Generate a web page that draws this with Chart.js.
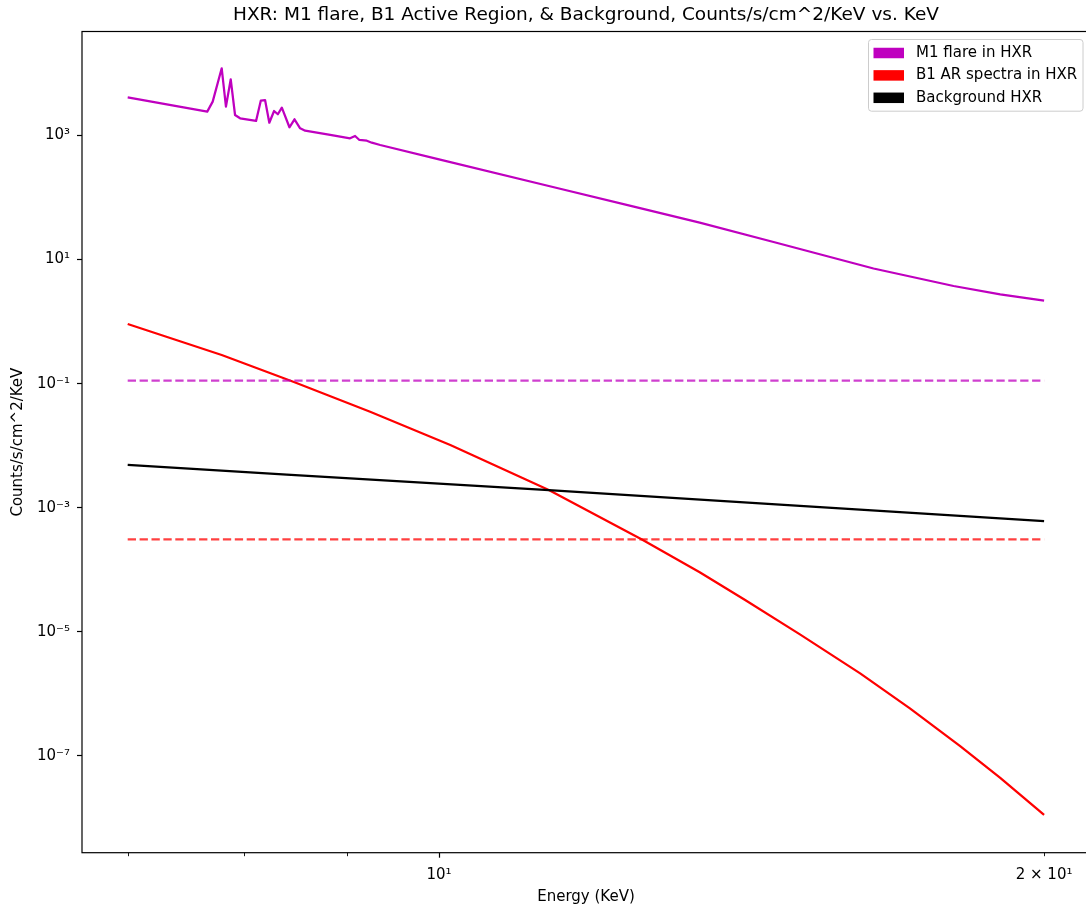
<!DOCTYPE html>
<html>
<head>
<meta charset="utf-8">
<title>HXR spectra</title>
<script src="https://cdn.jsdelivr.net/npm/chart.js@4.4.0/dist/chart.umd.min.js"></script>
<style>
  html, body { margin: 0; padding: 0; background: #ffffff; overflow: hidden; }
  canvas { display: block; }
</style>
</head>
<body>
<canvas id="hxr" width="1100" height="911" style="width:1100px;height:911px"></canvas>
<script>
// ---- Spectra (energy in keV, counts/s/cm^2/keV) ----
const m1Energy = [7.0, 7.668, 7.716, 7.796, 7.834, 7.877, 7.916, 7.962, 8.109, 8.153, 8.193, 8.233,
                  8.278, 8.314, 8.352, 8.425, 8.474, 8.529, 8.578, 8.828, 9.031, 9.083, 9.128, 9.206,
                  9.259, 9.348, 10.0, 11.42, 12.5, 13.48, 14.67, 16.45, 18.03, 19.02, 20.0];
const m1Flux   = [4130, 2421, 3510, 12100, 2913, 8050, 2139, 1892, 1714, 3640, 3730, 1607,
                  2483, 2198, 2806, 1356, 1824, 1306, 1195, 1019, 901, 981, 846, 824,
                  765, 703, 413, 145, 71.1, 39.3, 19.2, 7.18, 3.75, 2.74, 2.17];

const arEnergy = [7.0, 7.796, 8.462, 9.241, 10.13, 11.34, 12.61, 13.48, 14.20, 15.12, 16.20,
                  17.15, 18.16, 19.02, 20.0];
const arFlux   = [0.915, 0.290, 0.1076, 0.0352, 0.01026, 1.93e-3, 3.10e-4, 9.14e-5, 3.26e-5, 9.09e-6, 2.14e-6,
                  5.85e-7, 1.455e-7, 4.43e-8, 1.12e-8];

const bgEnergy = [7.0, 8.40, 11.34, 15.12, 20.0];
const bgFlux   = [4.89e-3, 3.43e-3, 1.93e-3, 1.067e-3, 6.11e-4];

// Constant reference levels drawn as dashed lines across the energy band
const levelSpan = [7.0, 20.0];
const m1Level = 0.112;
const arLevel = 3.1e-4;

// ---- Axis ticks ----
const yTickValues = [1e-7, 1e-5, 1e-3, 1e-1, 1e1, 1e3];
const yTickLabels = ['10\u207B\u2077', '10\u207B\u2075', '10\u207B\u00B3', '10\u207B\u00B9', '10\u00B9', '10\u00B3'];
const xTickValues = [10, 20];
const xTickLabels = ['10\u00B9', '2 \u00D7 10\u00B9'];
const xMajorTicks = [10];
const xMinorTicks = [7, 8, 9, 20];
const xRange = [6.643, 21.08];
const yRange = [Math.pow(10, -8.56), Math.pow(10, 4.676)];

const FONT = "'DejaVu Sans', sans-serif";
Chart.defaults.font.family = FONT;
Chart.defaults.color = '#000000';

const MAGENTA = '#bf00bf';
const RED = '#ff0000';
const BLACK = '#000000';

const pts = (xs, ys) => xs.map((x, i) => ({ x: x, y: ys[i] }));
const sameLog = (a, b) => Math.abs(Math.log10(a) - Math.log10(b)) < 1e-6;
const labelFor = (vals, labels, v) => {
  const i = vals.findIndex(t => sameLog(t, v));
  return i >= 0 ? labels[i] : '';
};

const lineBase = { showLine: true, pointRadius: 0, pointHoverRadius: 0, borderWidth: 2.25,
                   borderJoinStyle: 'round', borderCapStyle: 'butt', fill: false, tension: 0 };

const datasets = [
  Object.assign({}, lineBase, { label: 'M1 flare in HXR', data: pts(m1Energy, m1Flux),
    borderColor: MAGENTA, legendColor: MAGENTA, inLegend: true, order: 5 }),
  Object.assign({}, lineBase, { label: 'B1 AR spectra in HXR', data: pts(arEnergy, arFlux),
    borderColor: RED, legendColor: RED, inLegend: true, order: 4 }),
  Object.assign({}, lineBase, { label: 'Background HXR', data: pts(bgEnergy, bgFlux),
    borderColor: BLACK, legendColor: BLACK, inLegend: true, order: 3 }),
  Object.assign({}, lineBase, { label: 'M1 level', data: pts(levelSpan, [m1Level, m1Level]),
    borderColor: 'rgba(191,0,191,0.75)', borderDash: [8.3, 3.6], inLegend: false, order: 2 }),
  Object.assign({}, lineBase, { label: 'B1 level', data: pts(levelSpan, [arLevel, arLevel]),
    borderColor: 'rgba(255,0,0,0.75)', borderDash: [8.3, 3.6], inLegend: false, order: 1 })
];

// Axes spines, minor x ticks and a boxed legend in the upper right of the plot
const framePlugin = {
  id: 'frameAndLegend',
  afterDatasetsDraw(chart) {
    const ctx = chart.ctx;
    const a = chart.chartArea;
    const xs = chart.scales.x;
    ctx.save();
    ctx.strokeStyle = '#000000';
    ctx.lineWidth = 1.2;
    ctx.strokeRect(a.left, a.top, a.right - a.left, a.bottom - a.top);
    ctx.lineWidth = 0.9;
    xMinorTicks.forEach(v => {
      const px = Math.round(xs.getPixelForValue(v)) + 0.5;
      ctx.beginPath();
      ctx.moveTo(px, a.bottom);
      ctx.lineTo(px, a.bottom + 3.5);
      ctx.stroke();
    });
    ctx.restore();
  },
  afterDraw(chart) {
    const ctx = chart.ctx;
    const a = chart.chartArea;
    const items = chart.data.datasets.filter(d => d.inLegend);
    const fontSize = 15;
    const rowGap = 22.4;
    const boxRight = a.right - 7.5;
    const boxTop = a.top + 7.5;
    const boxW = 214.5;
    const boxH = 71.7;
    const boxLeft = boxRight - boxW;
    ctx.save();
    ctx.beginPath();
    if (ctx.roundRect) ctx.roundRect(boxLeft + 0.5, boxTop + 0.5, boxW, boxH, 3);
    else ctx.rect(boxLeft + 0.5, boxTop + 0.5, boxW, boxH);
    ctx.fillStyle = 'rgba(255,255,255,0.8)';
    ctx.fill();
    ctx.strokeStyle = '#cccccc';
    ctx.lineWidth = 1;
    ctx.stroke();
    ctx.font = fontSize + 'px ' + FONT;
    ctx.textBaseline = 'middle';
    ctx.textAlign = 'left';
    items.forEach((d, i) => {
      const cy = boxTop + 14 + i * rowGap;
      ctx.fillStyle = d.legendColor;
      ctx.fillRect(boxLeft + 5.5, cy - 5.25, 30.5, 10.5);
      ctx.fillStyle = '#000000';
      ctx.fillText(d.label, boxLeft + 48, cy);
    });
    ctx.restore();
  }
};

new Chart(document.getElementById('hxr'), {
  type: 'scatter',
  data: { datasets: datasets },
  options: {
    responsive: false,
    animation: false,
    events: [],
    // the plot's right spine sits just past the visible page edge
    layout: { padding: { left: 0, top: 0, bottom: 0, right: 10 } },
    plugins: {
      legend: { display: false },
      tooltip: { enabled: false },
      title: {
        display: true,
        fullSize: false,
        text: 'HXR: M1 flare, B1 Active Region, & Background, Counts/s/cm^2/KeV vs. KeV',
        font: { size: 18.5, weight: 'normal', family: FONT },
        color: '#000000',
        padding: { top: 3.7, bottom: 5.6 }
      }
    },
    scales: {
      x: {
        type: 'logarithmic',
        position: 'bottom',
        min: xRange[0],
        max: xRange[1],
        bounds: 'data',
        border: { display: false },
        grid: {
          drawOnChartArea: false,
          drawTicks: true,
          tickLength: 5,
          tickWidth: 1.2,
          tickColor: (c) => (c.tick && xMajorTicks.some(v => sameLog(v, c.tick.value))) ? '#000000' : 'rgba(0,0,0,0)'
        },
        afterBuildTicks: (axis) => { axis.ticks = xTickValues.map(v => ({ value: v })); },
        afterFit: (axis) => { axis.height = 911 - 852.7; },
        ticks: {
          autoSkip: false,
          maxRotation: 0,
          padding: 8,
          font: { size: 15, family: FONT },
          color: '#000000',
          callback: (v) => labelFor(xTickValues, xTickLabels, v)
        },
        title: {
          display: true,
          text: 'Energy (KeV)',
          font: { size: 15, family: FONT },
          color: '#000000',
          padding: { top: 0, bottom: 5 }
        }
      },
      y: {
        type: 'logarithmic',
        position: 'left',
        min: yRange[0],
        max: yRange[1],
        bounds: 'data',
        border: { display: false },
        grid: {
          drawOnChartArea: false,
          drawTicks: true,
          tickLength: 5,
          tickWidth: 1.2,
          tickColor: '#000000'
        },
        afterBuildTicks: (axis) => { axis.ticks = yTickValues.map(v => ({ value: v })); },
        afterFit: (axis) => { axis.width = 82; },
        ticks: {
          autoSkip: false,
          padding: 7,
          font: { size: 15, family: FONT },
          color: '#000000',
          callback: (v) => labelFor(yTickValues, yTickLabels, v)
        },
        title: {
          display: true,
          text: 'Counts/s/cm^2/KeV',
          font: { size: 15, family: FONT },
          color: '#000000',
          padding: { top: 9.5, bottom: 0 }
        }
      }
    }
  },
  plugins: [framePlugin]
});
</script>
</body>
</html>
